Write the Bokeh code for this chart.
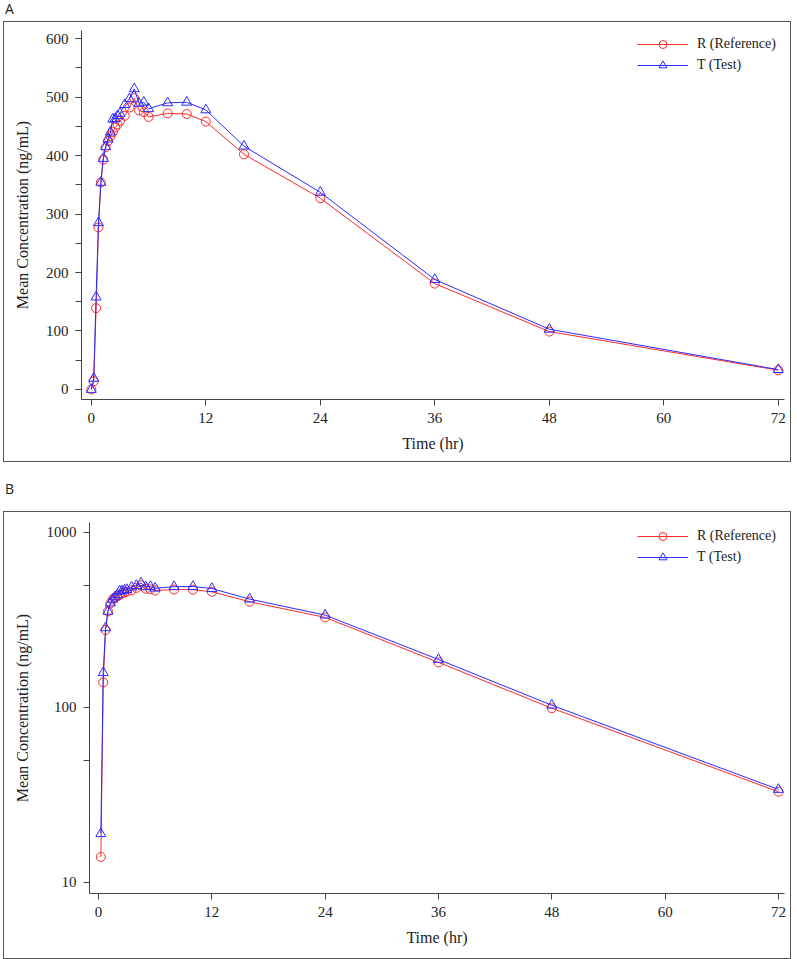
from bokeh.plotting import figure
from bokeh.models import (Div, Range1d, SingleIntervalTicker, FixedTicker,
                          NumeralTickFormatter)
from bokeh.embed import file_html
from bokeh.resources import INLINE

# ---- data ----
time_hr = [0, 0.25, 0.5, 0.75, 1, 1.25, 1.5, 1.75, 2, 2.25, 2.5, 2.75, 3, 3.5, 4,
           4.5, 5, 5.5, 6, 8, 10, 12, 16, 24, 36, 48, 72]
ref_conc = [0, 14, 139, 277, 354, 393, 414, 425, 433, 440, 448, 453, 459, 468, 482,
            498, 477, 474, 466, 472, 471, 458, 402, 327, 181, 99, 33]
test_conc = [0, 19, 158, 285, 354, 395, 415, 428, 440, 462, 463, 468, 472, 487, 497,
             514, 489, 491, 480, 490, 491, 478, 416, 337, 188, 103, 34]
x_ticks = [0, 12, 24, 36, 48, 60, 72]
log_ticks = [10, 100, 1000]
log_minor = [50, 500]
ref_label = "R (Reference)"
test_label = "T (Test)"
y_title = "Mean Concentration (ng/mL)"
x_title = "Time (hr)"

SERIF = "Liberation Serif"
AX = "#444444"
TXT = "#222222"


def style_axes(p, ylab_standoff):
    for ax in (p.xaxis[0], p.yaxis[0]):
        ax.axis_line_color = AX
        ax.major_tick_line_color = AX
        ax.minor_tick_line_color = AX
        ax.major_tick_out = 6
        ax.major_tick_in = 0
        ax.minor_tick_out = 6
        ax.minor_tick_in = 0
        ax.major_label_text_font = SERIF
        ax.major_label_text_font_size = "15px"
        ax.major_label_text_color = TXT
        ax.major_label_standoff = 7
        ax.axis_label_text_font = SERIF
        ax.axis_label_text_font_size = "16px"
        ax.axis_label_text_font_style = "normal"
        ax.axis_label_text_color = TXT
    xa = p.xaxis[0]
    xa.axis_label = x_title
    xa.axis_label_standoff = 9
    xa.ticker = FixedTicker(ticks=x_ticks)
    ya = p.yaxis[0]
    ya.axis_label = y_title
    ya.axis_label_standoff = ylab_standoff
    p.xgrid.visible = False
    p.ygrid.visible = False
    p.outline_line_color = None


def add_series(p, t, r, s):
    p.line(t, r, line_color="#ff2a2a", line_width=1, legend_label=ref_label)
    p.scatter(t, r, marker="circle", size=9, fill_color=None,
              line_color="#ff2a2a", line_width=1, legend_label=ref_label)
    p.line(t, s, line_color="#2a2aff", line_width=1, legend_label=test_label)
    p.scatter(t, s, marker="triangle", size=10, fill_color=None,
              line_color="#2a2aff", line_width=1, legend_label=test_label)


def style_legend(p, loc):
    lg = p.legend[0]
    lg.location = loc
    lg.border_line_color = None
    lg.background_fill_alpha = 0
    lg.padding = 0
    lg.margin = 0
    lg.spacing = 1
    lg.glyph_width = 51
    lg.glyph_height = 20
    lg.label_height = 20
    lg.label_standoff = 9
    lg.label_text_font = SERIF
    lg.label_text_font_size = "14px"
    lg.label_text_color = TXT


panel_styles = {"border": "1px solid #555555", "box-sizing": "border-box"}

# ---- Panel A (linear) ----
pA = figure(width=788, height=441, output_backend="svg", toolbar_location=None,
            x_range=Range1d(-1.03, 72.65), y_range=Range1d(-17.1, 613.7),
            min_border_left=77, min_border_right=8, min_border_top=8,
            min_border_bottom=64, margin=(0, 0, 0, 3), styles=panel_styles)
add_series(pA, time_hr, ref_conc, test_conc)
style_axes(pA, 12)
pA.yaxis[0].ticker = SingleIntervalTicker(interval=100, num_minor_ticks=2)
style_legend(pA, (556, 324))

# ---- Panel B (log) ----
t_pos = [t for t in time_hr if t > 0]
r_pos = [c for t, c in zip(time_hr, ref_conc) if t > 0]
s_pos = [c for t, c in zip(time_hr, test_conc) if t > 0]
pB = figure(width=788, height=448, output_backend="svg", toolbar_location=None,
            y_axis_type="log",
            x_range=Range1d(-0.954, 72.64), y_range=Range1d(8.65, 1140),
            min_border_left=85, min_border_right=8, min_border_top=10,
            min_border_bottom=67, margin=(0, 0, 0, 3), styles=panel_styles)
add_series(pB, t_pos, r_pos, s_pos)
style_axes(pB, 13)
pB.yaxis[0].ticker = FixedTicker(ticks=log_ticks, minor_ticks=log_minor)
pB.yaxis[0].formatter = NumeralTickFormatter(format="0")
style_legend(pB, (548, 326))

label_style = {"font-family": "'Open Sans'", "font-size": "14px",
               "color": TXT, "line-height": "16px"}
divA = Div(text="A", width=790, height=20, margin=(1, 0, 0, 5), styles=label_style)
divB = Div(text="B", width=790, height=49, margin=(0, 0, 0, 5),
           styles=dict(label_style, **{"padding-top": "19px"}))

open("out.html", "w").write(file_html([divA, pA, divB, pB], INLINE))
